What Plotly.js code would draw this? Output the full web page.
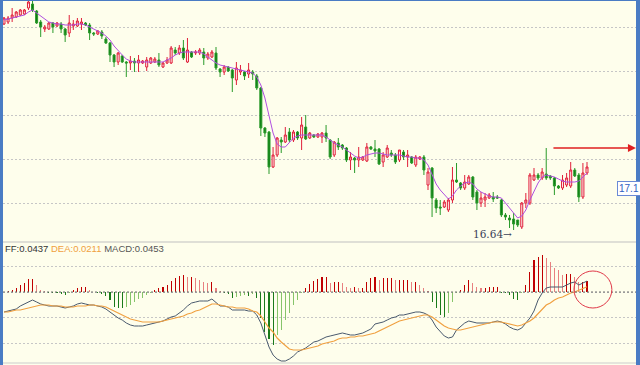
<!DOCTYPE html>
<html><head><meta charset="utf-8">
<script src="https://cdn.plot.ly/plotly-3.0.1.min.js"></script>
<style>html,body{margin:0;padding:0;background:#4a7cc4;}#chart{width:640px;height:365px;}</style>
</head><body><div id="chart"></div>
<script>
const openP = [18.70,18.72,18.76,18.77,18.79,18.80,18.86,18.90,18.83,18.72,
18.65,18.65,18.71,18.68,18.70,18.65,18.61,18.68,18.68,18.70,
18.71,18.69,18.61,18.60,18.62,18.55,18.51,18.39,18.32,18.38,
18.32,18.31,18.33,18.31,18.31,18.27,18.31,18.32,18.34,18.27,
18.31,18.31,18.44,18.41,18.46,18.32,18.42,18.41,18.41,18.42,
18.36,18.37,18.41,18.25,18.22,18.27,18.24,18.14,18.22,18.22,
18.20,18.22,18.18,18.06,17.66,17.62,17.27,17.39,17.54,17.52,
17.62,17.54,17.62,17.56,17.67,17.56,17.59,17.57,17.57,17.61,
17.54,17.39,17.51,17.49,17.46,17.34,17.36,17.34,17.34,17.33,
17.47,17.45,17.45,17.32,17.37,17.41,17.39,17.34,17.42,17.37,
17.37,17.29,17.35,17.37,17.09,17.26,16.94,16.87,16.87,16.84,
16.94,17.14,17.11,17.06,17.10,17.17,17.02,16.91,16.94,16.96,
16.97,16.97,16.94,16.79,16.76,16.75,16.74,16.67,16.91,16.91,
17.14,17.19,17.16,17.20,17.18,17.16,17.08,17.06,17.09,17.08,
17.24,17.19,16.97,17.21];
const highP = [18.77,18.78,18.86,18.83,18.85,18.85,18.94,18.94,18.84,18.74,
18.69,18.72,18.72,18.72,18.72,18.66,18.79,18.74,18.76,18.76,
18.72,18.71,18.62,18.64,18.64,18.57,18.52,18.40,18.42,18.39,
18.33,18.38,18.36,18.39,18.34,18.37,18.37,18.37,18.41,18.32,
18.37,18.48,18.47,18.49,18.54,18.56,18.43,18.44,18.46,18.46,
18.42,18.44,18.47,18.26,18.29,18.28,18.25,18.32,18.29,18.23,
18.31,18.24,18.20,18.07,17.67,17.63,17.47,17.57,17.57,17.67,
17.66,17.64,17.63,17.77,17.79,17.62,17.60,17.61,17.62,17.69,
17.55,17.53,17.56,17.50,17.47,17.42,17.37,17.47,17.38,17.51,
17.48,17.54,17.46,17.42,17.49,17.44,17.41,17.44,17.44,17.44,
17.38,17.39,17.38,17.39,17.26,17.27,16.96,16.94,16.94,16.96,
17.27,17.31,17.12,17.19,17.19,17.18,17.04,17.02,17.01,17.01,
17.02,16.99,16.95,16.81,16.79,16.81,16.74,16.92,17.01,17.21,
17.26,17.21,17.26,17.46,17.19,17.17,17.09,17.19,17.21,17.32,
17.26,17.21,17.31,17.32];
const lowP = [18.69,18.70,18.72,18.76,18.78,18.79,18.84,18.82,18.70,18.57,
18.62,18.64,18.61,18.67,18.61,18.52,18.57,18.64,18.67,18.64,
18.68,18.54,18.58,18.59,18.55,18.50,18.32,18.27,18.29,18.31,
18.17,18.24,18.22,18.22,18.30,18.23,18.30,18.31,18.27,18.26,
18.30,18.30,18.39,18.39,18.34,18.31,18.36,18.39,18.39,18.29,
18.34,18.36,18.24,18.17,18.19,18.22,18.02,18.09,18.19,18.14,
18.16,18.14,18.04,17.58,17.57,17.20,17.26,17.37,17.41,17.51,
17.52,17.52,17.54,17.44,17.54,17.55,17.56,17.56,17.51,17.52,
17.35,17.37,17.44,17.44,17.32,17.24,17.21,17.27,17.33,17.32,
17.44,17.37,17.29,17.27,17.36,17.37,17.30,17.32,17.34,17.27,
17.30,17.27,17.34,17.19,17.04,16.77,16.81,16.79,16.86,16.82,
16.91,17.11,17.04,17.04,17.09,16.94,16.84,16.87,16.87,16.95,
16.92,16.95,16.77,16.74,16.66,16.64,16.67,16.65,16.86,16.89,
17.13,17.14,17.14,17.14,17.14,16.99,17.05,17.04,17.07,17.06,
17.17,16.92,16.95,17.19];
const closeP = [18.76,18.76,18.79,18.82,18.84,18.84,18.92,18.84,18.71,18.67,
18.67,18.71,18.67,18.71,18.65,18.59,18.71,18.70,18.73,18.72,
18.69,18.61,18.60,18.63,18.58,18.51,18.39,18.32,18.41,18.32,
18.31,18.33,18.31,18.34,18.33,18.34,18.36,18.35,18.29,18.31,
18.34,18.46,18.41,18.46,18.36,18.44,18.37,18.42,18.44,18.36,
18.40,18.42,18.26,18.22,18.27,18.23,18.16,18.26,18.24,18.18,
18.24,18.20,18.06,17.66,17.61,17.27,17.39,17.56,17.52,17.59,
17.54,17.62,17.56,17.69,17.55,17.61,17.57,17.60,17.61,17.56,
17.37,17.52,17.47,17.46,17.34,17.37,17.34,17.37,17.37,17.47,
17.45,17.43,17.30,17.39,17.46,17.39,17.32,17.44,17.37,17.39,
17.31,17.37,17.37,17.24,17.22,16.96,16.86,16.86,16.92,16.94,
17.14,17.12,17.06,17.12,17.17,16.97,16.91,16.96,16.97,16.99,
16.95,16.96,16.79,16.77,16.74,16.70,16.69,16.91,16.94,17.19,
17.19,17.16,17.22,17.16,17.16,17.08,17.06,17.14,17.16,17.24,
17.18,16.97,17.21,17.27];
const maLine = [18.74,18.75,18.76,18.77,18.78,18.79,18.82,18.84,18.81,18.78,
18.75,18.72,18.71,18.70,18.70,18.69,18.69,18.69,18.70,18.70,
18.69,18.67,18.65,18.63,18.61,18.58,18.54,18.48,18.43,18.39,
18.35,18.33,18.32,18.32,18.32,18.32,18.32,18.32,18.32,18.32,
18.34,18.36,18.39,18.41,18.42,18.42,18.42,18.42,18.42,18.40,
18.37,18.34,18.31,18.29,18.28,18.27,18.26,18.25,18.24,18.23,
18.22,18.21,18.17,18.09,17.96,17.78,17.61,17.50,17.47,17.47,
17.51,17.56,17.58,17.59,17.59,17.59,17.59,17.59,17.59,17.57,
17.54,17.51,17.49,17.47,17.44,17.41,17.38,17.36,17.37,17.39,
17.40,17.41,17.41,17.40,17.39,17.39,17.39,17.39,17.38,17.37,
17.37,17.36,17.36,17.34,17.29,17.20,17.10,17.04,16.99,16.95,
16.98,17.04,17.08,17.11,17.12,17.10,17.05,17.02,17.00,16.98,
16.97,16.97,16.96,16.91,16.86,16.81,16.76,16.78,16.84,16.94,
17.03,17.11,17.17,17.19,17.18,17.17,17.15,17.13,17.12,17.12,
17.12,17.13,17.17,17.21];
const diffLine = [-0.080,-0.076,-0.072,-0.068,-0.056,-0.048,-0.040,-0.032,-0.040,-0.048,
-0.052,-0.056,-0.056,-0.056,-0.060,-0.064,-0.060,-0.056,-0.048,-0.044,
-0.048,-0.052,-0.052,-0.056,-0.060,-0.068,-0.080,-0.092,-0.104,-0.112,
-0.124,-0.132,-0.136,-0.136,-0.136,-0.132,-0.128,-0.124,-0.120,-0.116,
-0.108,-0.100,-0.096,-0.084,-0.072,-0.056,-0.044,-0.040,-0.036,-0.036,
-0.036,-0.028,-0.044,-0.056,-0.056,-0.060,-0.072,-0.072,-0.072,-0.072,
-0.076,-0.076,-0.092,-0.124,-0.172,-0.220,-0.252,-0.268,-0.276,-0.276,
-0.268,-0.256,-0.240,-0.232,-0.224,-0.212,-0.200,-0.196,-0.188,-0.180,
-0.176,-0.172,-0.168,-0.164,-0.168,-0.172,-0.172,-0.168,-0.164,-0.156,
-0.148,-0.128,-0.124,-0.120,-0.112,-0.104,-0.100,-0.092,-0.092,-0.088,
-0.084,-0.080,-0.080,-0.084,-0.092,-0.112,-0.140,-0.160,-0.176,-0.184,
-0.180,-0.152,-0.136,-0.124,-0.116,-0.120,-0.124,-0.124,-0.124,-0.124,
-0.120,-0.116,-0.120,-0.128,-0.140,-0.148,-0.152,-0.144,-0.124,-0.104,
-0.076,-0.032,-0.004,0.016,0.020,0.020,0.020,0.020,0.028,0.036,
0.040,0.028,0.036,0.0437];
const deaLine = [-0.080,-0.080,-0.076,-0.072,-0.072,-0.068,-0.064,-0.060,-0.056,-0.052,
-0.052,-0.052,-0.056,-0.056,-0.056,-0.060,-0.060,-0.060,-0.056,-0.056,
-0.056,-0.052,-0.052,-0.056,-0.056,-0.060,-0.068,-0.076,-0.084,-0.092,
-0.100,-0.108,-0.112,-0.116,-0.120,-0.120,-0.120,-0.120,-0.120,-0.116,
-0.112,-0.108,-0.104,-0.100,-0.096,-0.088,-0.084,-0.076,-0.072,-0.064,
-0.056,-0.048,-0.048,-0.052,-0.056,-0.060,-0.060,-0.064,-0.064,-0.064,
-0.068,-0.076,-0.080,-0.096,-0.120,-0.144,-0.160,-0.184,-0.200,-0.216,
-0.228,-0.232,-0.232,-0.232,-0.228,-0.224,-0.220,-0.216,-0.208,-0.204,
-0.200,-0.196,-0.188,-0.184,-0.184,-0.180,-0.180,-0.176,-0.176,-0.172,
-0.168,-0.164,-0.156,-0.148,-0.140,-0.132,-0.124,-0.116,-0.112,-0.108,
-0.104,-0.100,-0.096,-0.092,-0.092,-0.100,-0.112,-0.124,-0.136,-0.144,
-0.148,-0.152,-0.152,-0.148,-0.144,-0.140,-0.136,-0.132,-0.128,-0.124,
-0.120,-0.120,-0.120,-0.124,-0.128,-0.132,-0.136,-0.132,-0.124,-0.116,
-0.104,-0.088,-0.072,-0.052,-0.044,-0.032,-0.024,-0.020,-0.012,-0.004,
0.000,0.008,0.016,0.0211];
const macdHist = [0.002,0.004,0.008,0.016,0.028,0.036,0.052,0.052,0.028,0.008,
0.004,-0.002,-0.004,-0.004,-0.008,-0.012,-0.002,0.008,0.016,0.020,
0.020,0.008,0.002,-0.004,-0.008,-0.016,-0.032,-0.060,-0.064,-0.064,
-0.060,-0.052,-0.040,-0.028,-0.024,-0.012,-0.004,0.008,0.016,0.020,
0.028,0.044,0.056,0.064,0.068,0.060,0.060,0.056,0.048,0.040,
0.036,0.040,0.016,0.004,-0.004,-0.008,-0.024,-0.020,-0.016,-0.012,
-0.016,-0.008,-0.024,-0.104,-0.160,-0.188,-0.212,-0.172,-0.152,-0.112,
-0.084,-0.052,-0.032,-0.002,0.016,0.032,0.044,0.052,0.060,0.060,
0.036,0.040,0.040,0.036,0.020,0.016,0.020,0.016,0.016,0.040,
0.056,0.060,0.048,0.056,0.056,0.056,0.048,0.048,0.048,0.048,
0.040,0.040,0.028,0.016,0.004,-0.040,-0.064,-0.092,-0.100,-0.084,
-0.040,-0.004,0.008,0.028,0.048,0.036,0.020,0.016,0.016,0.020,
0.020,0.020,-0.002,-0.004,-0.012,-0.028,-0.032,-0.004,0.028,0.080,
0.128,0.140,0.148,0.136,0.120,0.096,0.088,0.068,0.072,0.072,
0.060,0.040,0.040,0.0453];
const legendParts = [['FF:0.0437','#333333'],['DEA:0.0211','#f0a040'],['MACD:0.0453','#555555']];
const lowLabel = '16.64';
const lastLabel = '17.1';

const idx = openP.map((_, i) => i);
const histColors = macdHist.map((v, i) => {
  const p = i > 0 ? macdHist[i - 1] : 0;
  if (v >= 0) return v >= p ? '#c00000' : '#e88080';
  return v <= p ? '#1a7a1a' : '#86c46a';
});

const traces = [
  {type:'candlestick', x:idx, open:openP, high:highP, low:lowP, close:closeP,
   xaxis:'x', yaxis:'y', whiskerwidth:0, hoverinfo:'none',
   increasing:{line:{color:'#e0203a', width:1}, fillcolor:'#fff0f0'},
   decreasing:{line:{color:'#2a9a2a', width:1}, fillcolor:'#0b7a12'}},
  {type:'scatter', mode:'lines', x:idx, y:maLine, xaxis:'x', yaxis:'y',
   line:{color:'#b050e0', width:1}, hoverinfo:'none'},
  {type:'bar', x:idx, y:macdHist, xaxis:'x2', yaxis:'y2', width:0.28,
   marker:{color:histColors, line:{width:0}}, hoverinfo:'none'},
  {type:'scatter', mode:'lines', x:idx, y:diffLine, xaxis:'x2', yaxis:'y2',
   line:{color:'#4a5a6e', width:1}, hoverinfo:'none'},
  {type:'scatter', mode:'lines', x:idx, y:deaLine, xaxis:'x2', yaxis:'y2',
   line:{color:'#f0a040', width:1.2}, hoverinfo:'none'}
];

const split = 0.3379;
const layout = {
  width:640, height:365,
  margin:{l:3, r:4, t:1, b:0},
  paper_bgcolor:'#4a7cc4', plot_bgcolor:'#fefeec',
  showlegend:false, bargap:0,
  font:{family:'Liberation Sans, Arial, sans-serif'},
  xaxis:{domain:[0,1], range:[-0.245,155.02], showgrid:false, zeroline:false,
         showticklabels:false, ticks:'', rangeslider:{visible:false}, anchor:'y', showline:false},
  xaxis2:{domain:[0,1], range:[-0.245,155.02], showgrid:false, zeroline:false,
          showticklabels:false, ticks:'', anchor:'y2', matches:'x', showline:false},
  yaxis:{domain:[split,1], range:[16.52,18.93], tick0:16.91, dtick:0.44, showgrid:true,
         gridcolor:'#c6c6c6', griddash:'2px,2px', gridwidth:1, zeroline:false,
         showticklabels:false, ticks:''},
  yaxis2:{domain:[0,split], range:[-0.292,0.2], tick0:0, dtick:0.102, showgrid:true,
          gridcolor:'#c6c6c6', griddash:'2px,2px', gridwidth:1, zeroline:false,
          showticklabels:false, ticks:''},
  shapes:[
    {type:'line', xref:'paper', yref:'paper', x0:0, x1:1, y0:split, y1:split,
     line:{color:'#c0c0c0', width:1}},
    {type:'line', xref:'paper', yref:'y2', x0:0, x1:1, y0:0, y1:0,
     line:{color:'#707070', width:1, dash:'2px,2px'}},
    {type:'line', xref:'paper', yref:'y2', x0:0, x1:1, y0:-0.284, y1:-0.284,
     line:{color:'#cccccc', width:1}},
    {type:'circle', xref:'x2', yref:'y2', x0:139.8, x1:149.1, y0:-0.064, y1:0.084,
     line:{color:'#e03848', width:1}}
  ],
  annotations:[
    {xref:'paper', yref:'paper', x:0, y:0.3187, xanchor:'left', yanchor:'middle', showarrow:false,
     text: legendParts.map(p => '<span style="color:' + p[1] + '">' + p[0] + '</span>').join(' '),
     font:{size:9.5, family:'Liberation Sans, Arial, sans-serif'}},
    {xref:'x', yref:'y', x:125, y:16.60, xanchor:'right', yanchor:'middle', showarrow:false,
     text: lowLabel + '→', font:{size:10.5, color:'#3a4258', family:'DejaVu Serif, serif'}},
    {xref:'paper', yref:'y', x:0.970, y:17.06, xanchor:'left', yanchor:'middle', showarrow:false,
     text: lastLabel, font:{size:10, color:'#3060c0'}, bgcolor:'#ffffff',
     bordercolor:'#6a8ad6', borderwidth:1, borderpad:1},
    {xref:'x', yref:'y', x:155.0, y:17.46, axref:'x', ayref:'y', ax:134.4, ay:17.46,
     showarrow:true, arrowhead:2, arrowsize:1, arrowwidth:1.6, arrowcolor:'#e02020', text:''}
  ]
};
Plotly.newPlot('chart', traces, layout, {staticPlot:true, displayModeBar:false});
</script></body></html>
